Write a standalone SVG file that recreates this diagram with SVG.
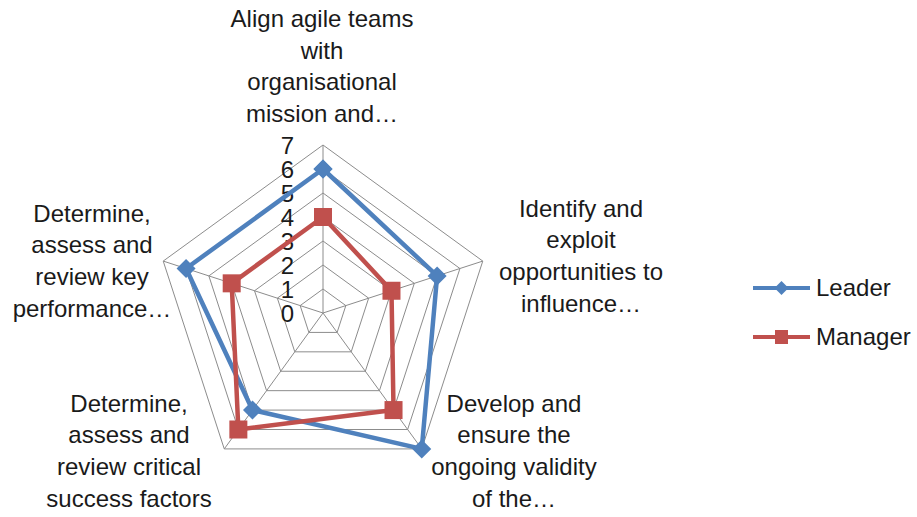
<svg xmlns="http://www.w3.org/2000/svg" width="917" height="517" viewBox="0 0 917 517">
<style>
text{font-family:"Liberation Sans",Arial,sans-serif;font-size:24px;fill:#1a1a1a}
.lab{text-anchor:middle}
.tick{text-anchor:end}
.grid{fill:none;stroke:#8c8c8c;stroke-width:1}
.leader{fill:none;stroke:#4F81BD;stroke-width:4.5;stroke-linejoin:round}
.manager{fill:none;stroke:#C0504D;stroke-width:4.5;stroke-linejoin:round}
</style>
<defs>
<marker id="dia" markerUnits="userSpaceOnUse" markerWidth="22" markerHeight="22" refX="11" refY="11" viewBox="0 0 22 22" overflow="visible">
<polygon points="11,1.5 20.5,11 11,20.5 1.5,11" fill="#4F81BD"/>
</marker>
<marker id="sq" markerUnits="userSpaceOnUse" markerWidth="22" markerHeight="22" refX="11" refY="11" viewBox="0 0 22 22" overflow="visible">
<rect x="2" y="2" width="18" height="18" fill="#C0504D"/>
</marker>
</defs>
<rect width="917" height="517" fill="#ffffff"/>
<g id="grid">
<polygon class="grid" points="323,289 345.83,305.58 337.11,332.42 308.89,332.42 300.17,305.58"/>
<polygon class="grid" points="323,265 368.65,298.17 351.21,351.83 294.79,351.83 277.35,298.17"/>
<polygon class="grid" points="323,241 391.48,290.75 365.32,371.25 280.68,371.25 254.52,290.75"/>
<polygon class="grid" points="323,217 414.30,283.33 379.43,390.67 266.57,390.67 231.70,283.33"/>
<polygon class="grid" points="323,193 437.13,275.92 393.53,410.08 252.47,410.08 208.87,275.92"/>
<polygon class="grid" points="323,169 459.95,268.50 407.64,429.50 238.36,429.50 186.05,268.50"/>
<polygon class="grid" points="323,145 482.78,261.09 421.75,448.91 224.25,448.91 163.22,261.09"/>
<path class="grid" d="M323,313L323,145M323,313L482.78,261.09M323,313L421.75,448.91M323,313L224.25,448.91M323,313L163.22,261.09"/>
</g>
<g id="ticks">
<text class="tick" x="294" y="322">0</text>
<text class="tick" x="294" y="298">1</text>
<text class="tick" x="294" y="274">2</text>
<text class="tick" x="294" y="250">3</text>
<text class="tick" x="294" y="226">4</text>
<text class="tick" x="294" y="202">5</text>
<text class="tick" x="294" y="178">6</text>
<text class="tick" x="294" y="154">7</text>
</g>
<g id="series">
<polygon id="leader" class="leader" points="323,169 437.13,275.92 421.75,448.91 252.47,410.08 186.05,268.50" marker-start="url(#dia)" marker-mid="url(#dia)" marker-end="url(#dia)"/>
<polygon id="manager" class="manager" points="323,217 391.48,290.75 393.53,410.08 238.36,429.50 231.70,283.33" marker-start="url(#sq)" marker-mid="url(#sq)" marker-end="url(#sq)"/>
</g>
<g id="label-top">
<text class="lab" x="322" y="27">Align agile teams</text>
<text class="lab" x="322" y="59">with</text>
<text class="lab" x="322" y="90">organisational</text>
<text class="lab" x="322" y="122">mission and…</text>
</g>
<g id="label-right">
<text class="lab" x="581" y="217">Identify and</text>
<text class="lab" x="581" y="248">exploit</text>
<text class="lab" x="581" y="280">opportunities to</text>
<text class="lab" x="581" y="312">influence…</text>
</g>
<g id="label-bottom-right">
<text class="lab" x="514" y="412">Develop and</text>
<text class="lab" x="514" y="443">ensure the</text>
<text class="lab" x="514" y="475">ongoing validity</text>
<text class="lab" x="514" y="507">of the…</text>
</g>
<g id="label-bottom-left">
<text class="lab" x="129" y="412">Determine,</text>
<text class="lab" x="129" y="443">assess and</text>
<text class="lab" x="129" y="475">review critical</text>
<text class="lab" x="129" y="507">success factors</text>
</g>
<g id="label-left">
<text class="lab" x="92" y="222">Determine,</text>
<text class="lab" x="92" y="253">assess and</text>
<text class="lab" x="92" y="285">review key</text>
<text class="lab" x="92" y="317">performance…</text>
</g>
<g id="legend">
<line x1="753" y1="288" x2="810" y2="288" stroke="#4F81BD" stroke-width="4"/>
<polygon points="781.5,281 788.5,288 781.5,295 774.5,288" fill="#4F81BD"/>
<text x="816" y="296">Leader</text>
<line x1="753" y1="337" x2="810" y2="337" stroke="#C0504D" stroke-width="4"/>
<rect x="775" y="330" width="13" height="14" fill="#C0504D"/>
<text x="816" y="345">Manager</text>
</g>
</svg>
